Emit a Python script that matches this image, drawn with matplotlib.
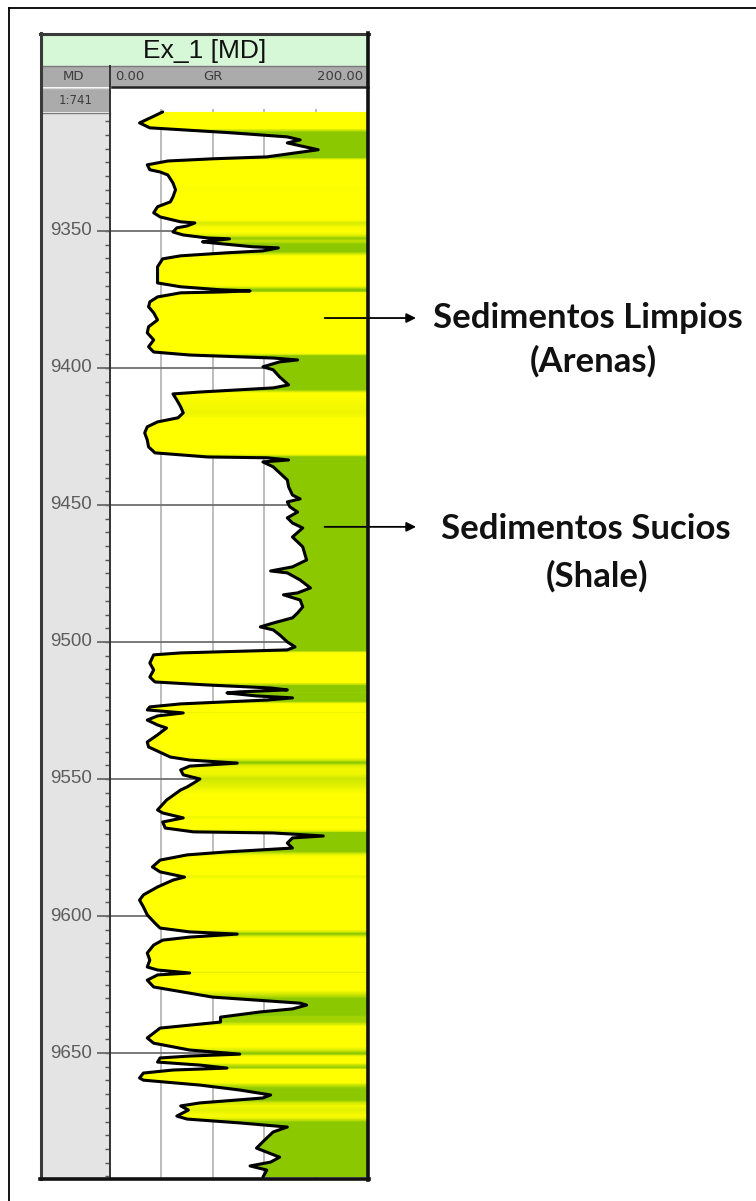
import numpy as np
import matplotlib
matplotlib.use("Agg")
import matplotlib.pyplot as plt
from matplotlib.patches import Rectangle, Polygon
from matplotlib.colors import LinearSegmentedColormap

W, H, DPI = 756, 1201, 100

# ---- gamma-ray log (measured depth in ft, GR in API) ----
depth = [
    9306.6, 9308.4, 9310.6, 9312.4, 9314.2, 9315.7, 9316.8, 9317.9, 9320.4, 9323.0,
    9323.7, 9324.5, 9325.9, 9327.7, 9328.5, 9329.6, 9332.5, 9335.0, 9337.6, 9339.4,
    9341.2, 9343.4, 9344.9, 9346.7, 9347.1, 9348.2, 9348.9, 9350.4, 9351.5, 9352.6,
    9352.9, 9354.0, 9354.4, 9355.8, 9356.2, 9357.3, 9358.0, 9359.1, 9360.2, 9363.1,
    9365.3, 9369.0, 9370.4, 9371.5, 9371.9, 9372.3, 9372.6, 9374.1, 9375.9, 9377.7,
    9379.9, 9382.5, 9385.0, 9387.2, 9389.8, 9392.3, 9394.2, 9395.3, 9396.4, 9397.1,
    9397.8, 9399.6, 9400.7, 9403.3, 9406.2, 9407.3, 9408.8, 9409.5, 9411.7, 9414.2,
    9416.4, 9418.2, 9419.7, 9421.5, 9423.7, 9426.3, 9428.8, 9431.0, 9432.5, 9432.8,
    9433.6, 9434.3, 9436.1, 9438.3, 9440.9, 9443.4, 9446.4, 9447.8, 9448.9, 9450.7,
    9452.6, 9454.7, 9456.6, 9458.4, 9461.7, 9465.3, 9470.1, 9472.6, 9474.1, 9474.8,
    9477.4, 9480.3, 9482.1, 9482.8, 9484.7, 9487.2, 9489.4, 9491.2, 9493.1, 9494.5,
    9495.6, 9497.4, 9500.0, 9501.8, 9502.9, 9504.0, 9504.7, 9507.7, 9510.2, 9512.8,
    9514.6, 9515.7, 9516.8, 9517.5, 9518.2, 9518.6, 9519.7, 9520.4, 9521.2, 9522.6,
    9523.7, 9524.8, 9525.9, 9527.0, 9528.5, 9530.3, 9531.4, 9533.9, 9536.5, 9538.3,
    9539.4, 9542.0, 9543.1, 9544.2, 9545.3, 9546.7, 9548.5, 9550.0, 9551.5, 9552.9,
    9554.0, 9557.7, 9561.3, 9562.4, 9564.2, 9565.7, 9567.9, 9569.3, 9569.7, 9570.8,
    9571.5, 9573.4, 9575.2, 9576.6, 9577.7, 9579.6, 9582.1, 9583.9, 9585.8, 9586.9,
    9589.4, 9592.3, 9594.2, 9596.7, 9599.6, 9602.6, 9604.4, 9605.8, 9606.6, 9607.7,
    9608.8, 9610.6, 9613.5, 9616.1, 9618.6, 9619.7, 9620.8, 9621.5, 9623.4, 9625.9,
    9629.6, 9631.8, 9632.5, 9633.9, 9635.0, 9636.9, 9638.7, 9640.9, 9644.5, 9646.4,
    9648.9, 9650.4, 9651.1, 9651.8, 9653.3, 9654.4, 9655.5, 9656.2, 9657.3, 9659.1,
    9659.9, 9661.7, 9663.5, 9665.3, 9666.4, 9668.2, 9669.3, 9670.8, 9673.0, 9674.1,
    9675.5, 9677.0, 9678.8, 9681.0, 9684.7, 9688.0, 9689.8, 9691.2, 9692.7, 9695.3,
]
gr = [
    41, 33, 23, 31, 94, 138, 148, 138, 162, 122,
    80, 45, 29, 31, 39, 45, 49, 51, 49, 47,
    37, 34, 39, 55, 66, 60, 52, 49, 57, 76,
    93, 72, 80, 111, 131, 119, 91, 55, 41, 37,
    37, 37, 55, 86, 109, 86, 55, 37, 31, 30,
    34, 37, 30, 29, 34, 30, 34, 62, 127, 146,
    132, 119, 127, 132, 139, 127, 70, 49, 52, 55,
    57, 53, 37, 29, 27, 29, 30, 35, 76, 122,
    139, 119, 127, 132, 138, 139, 142, 148, 138, 140,
    146, 138, 142, 150, 142, 150, 153, 142, 125, 138,
    148, 156, 146, 135, 148, 150, 146, 142, 127, 117,
    127, 132, 138, 144, 138, 55, 34, 31, 34, 31,
    35, 76, 125, 138, 101, 91, 114, 142, 122, 55,
    31, 29, 57, 37, 29, 37, 44, 37, 29, 30,
    35, 47, 62, 99, 62, 55, 57, 70, 65, 60,
    55, 44, 37, 41, 57, 41, 43, 65, 127, 166,
    142, 138, 142, 91, 60, 39, 33, 39, 58, 49,
    37, 26, 23, 26, 29, 35, 39, 62, 99, 62,
    41, 34, 29, 31, 29, 37, 62, 37, 29, 34,
    80, 148, 153, 142, 117, 86, 86, 39, 29, 34,
    62, 101, 62, 39, 37, 70, 91, 49, 26, 23,
    26, 70, 101, 125, 119, 70, 55, 61, 52, 60,
    101, 138, 127, 122, 114, 132, 125, 109, 122, 119,
]

track_title = "Ex_1 [MD]"
depth_header = "MD"
curve_name = "GR"
gr_left_label, gr_right_label = "0.00", "200.00"
scale_label = "1:741"
gr_min, gr_max = 0.0, 200.0
gr_grid = [40, 80, 120, 160]
depth_labels = [9350, 9400, 9450, 9500, 9550, 9600, 9650]
minor_step = 5
clean_cut, shale_cut = 50.0, 95.0          # colour ramp yellow -> green
callouts = [
    (9381.8, 167.0, "Sedimentos Limpios", "(Arenas)"),
    (9458.0, 167.0, "Sedimentos Sucios", "(Shale)"),
]

depth_top, depth_base = 9297.5, 9695.6      # visible depth window of the track

fig = plt.figure(figsize=(W / DPI, H / DPI), dpi=DPI)
fig.patch.set_facecolor("white")


def fx(px):
    return px / W


def fy(py):
    return 1.0 - py / H


def box(x0, y0, x1, y1, **kw):
    r = Rectangle((fx(x0), fy(y1)), fx(x1) - fx(x0), fy(y0) - fy(y1),
                  transform=fig.transFigure, **kw)
    fig.add_artist(r)
    return r


def fline(xs, ys, **kw):
    fig.add_artist(plt.Line2D([fx(v) for v in xs], [fy(v) for v in ys],
                              transform=fig.transFigure, **kw))


# outer frame of the slide
fline([8.5, 8.5], [7.5, 1201], color="black", lw=1.3)
fline([8.5, 756], [7.5, 7.5], color="black", lw=1.3)

# ---- track panel header ----
box(41, 34, 368, 66, facecolor="#d6f8d6", edgecolor="none")
box(41, 66, 368, 87, facecolor="#ababab", edgecolor="none")
box(41, 88, 110, 112, facecolor="#ababab", edgecolor="none")
fline([41, 368], [66, 66], color="#7a7a7a", lw=1.0)
fline([41, 110], [88, 88], color="#d8d8d8", lw=1.0)
fline([41, 110], [112.5, 112.5], color="#7a7a7a", lw=1.0)
fline([112, 368], [86.5, 86.5], color="#222222", lw=1.8)
fline([110, 110], [66, 1179], color="#333333", lw=1.4)

hdr_font = ["DejaVu Sans"]
fig.text(fx(205), fy(51), track_title, ha="center", va="center",
         fontsize=19, family=["Liberation Sans"], color="#111111")
fig.text(fx(74), fy(77), depth_header, ha="center", va="center",
         fontsize=9.5, family=hdr_font, color="#3c3c3c")
fig.text(fx(115), fy(77), gr_left_label, ha="left", va="center",
         fontsize=9.5, family=hdr_font, color="#3c3c3c")
fig.text(fx(213), fy(77), curve_name, ha="center", va="center",
         fontsize=9.5, family=hdr_font, color="#3c3c3c")
fig.text(fx(363), fy(77), gr_right_label, ha="right", va="center",
         fontsize=9.5, family=hdr_font, color="#3c3c3c")
fig.text(fx(76), fy(101), scale_label, ha="center", va="center",
         fontsize=8.5, family=hdr_font, color="#3c3c3c")

# ---- depth column ----
ax_dep = fig.add_axes([fx(41), fy(1178), fx(110) - fx(41), fy(113) - fy(1178)])
ax_dep.set_facecolor("#e4e4e4")
ax_dep.set_xlim(0, 1)
ax_dep.set_ylim(depth_base, depth_top + (113 - 87) / 2.74)
for s in ax_dep.spines.values():
    s.set_visible(False)
ax_dep.set_xticks([])
ax_dep.set_yticks([])
minor = np.arange(9310, depth_base, minor_step)
ax_dep.hlines(minor, 0.93, 1.0, colors="#555555", lw=1.0)
ax_dep.hlines(depth_labels, 0.81, 1.0, colors="#6a6a6a", lw=1.3)
for d in depth_labels:
    ax_dep.text(0.44, d, str(d), ha="center", va="center", fontsize=13.5,
                family=["Liberation Sans"], color="#5c5c5c")

# ---- GR track ----
ax = fig.add_axes([fx(110), fy(1178), fx(367) - fx(110), fy(87) - fy(1178)])
ax.set_facecolor("white")
d_arr = np.asarray(depth, dtype=float)
g_arr = np.asarray(gr, dtype=float)

ax.vlines(gr_grid, d_arr[0] - 1.0, depth_base, colors="#b8b8b8", lw=1.3, zorder=1)
ax.hlines(depth_labels, gr_min, gr_max, colors="#6e6e6e", lw=1.3, zorder=1)

# lithology shading: colour each depth by its GR value, clipped to curve -> right edge
fine_d = np.linspace(d_arr[0], d_arr[-1], 3000)
fine_g = np.interp(fine_d, d_arr, g_arr)
lith = LinearSegmentedColormap.from_list("lith", ["#ffff00", "#8cc800"])
frac = np.clip((fine_g - clean_cut) / (shale_cut - clean_cut), 0, 1)
rgba = lith(frac)[:, None, :]
img = ax.imshow(rgba, extent=[gr_min, gr_max, d_arr[-1], d_arr[0]],
                aspect="auto", interpolation="nearest", zorder=2)
shape = Polygon(np.column_stack([np.r_[g_arr, gr_max, gr_max],
                                 np.r_[d_arr, d_arr[-1], d_arr[0]]]),
                closed=True, facecolor="none", edgecolor="none",
                transform=ax.transData)
ax.add_patch(shape)
img.set_clip_path(shape)

ax.plot(g_arr, d_arr, color="black", lw=2.2, zorder=4,
        solid_joinstyle="round", solid_capstyle="round")

ax.set_xlim(gr_min, gr_max)
ax.set_ylim(depth_base, depth_top)
ax.set_xticks([])
ax.set_yticks([])
for s in ax.spines.values():
    s.set_visible(False)

# panel outline
fline([41, 41], [33, 1179], color="#3a3a3a", lw=2.2)
fline([40, 368.5], [33.5, 33.5], color="#3a3a3a", lw=2.2)
fline([367.5, 367.5], [33, 1179.5], color="#111111", lw=2.6)
fline([40, 369], [1178.5, 1178.5], color="#111111", lw=2.6)

# ---- callouts ----
text_pos = [((588, 318), (593, 361)), ((586, 529), (597, 576))]
for (dd, gstart, line1, line2), (p1, p2) in zip(callouts, text_pos):
    ax.annotate("", xy=(fx(416), dd), xycoords=("figure fraction", "data"),
                xytext=(gstart, dd), textcoords="data", annotation_clip=False,
                arrowprops=dict(arrowstyle="-|>", color="black", lw=1.3,
                                mutation_scale=14, shrinkA=0, shrinkB=0),
                zorder=6)
    fig.text(fx(p1[0]), fy(p1[1]), line1, ha="center", va="center",
             fontsize=25, family=["Lato"], weight="bold", color="#111111")
    fig.text(fx(p2[0]), fy(p2[1]), line2, ha="center", va="center",
             fontsize=25, family=["Lato"], weight="bold", color="#111111")

fig.savefig("out.png", dpi=DPI, facecolor="white")
